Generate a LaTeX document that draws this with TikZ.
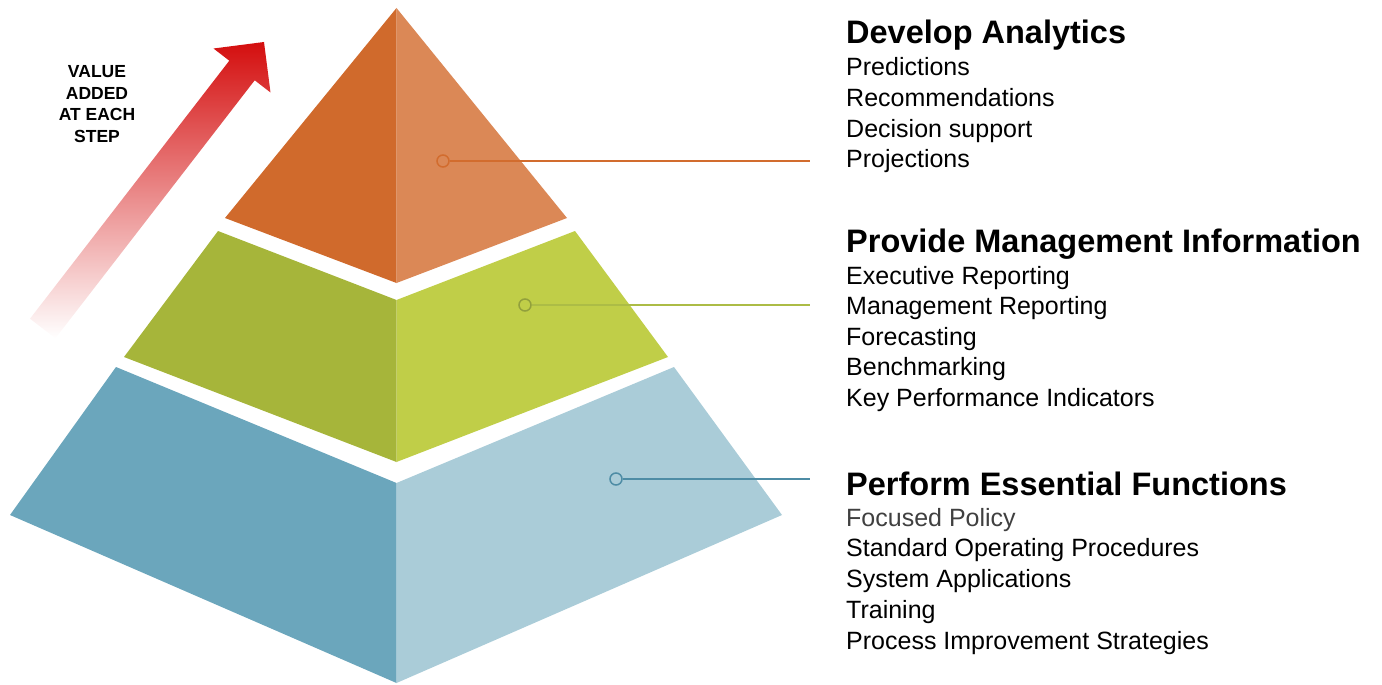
\documentclass[tikz,border=0pt]{standalone}
\usepackage{fontspec}
\setmainfont{Liberation Sans}
\definecolor{orangeD}{RGB}{208,106,44}
\definecolor{orangeL}{RGB}{219,136,86}
\definecolor{greenD}{RGB}{166,181,58}
\definecolor{greenL}{RGB}{192,206,72}
\definecolor{blueD}{RGB}{107,166,188}
\definecolor{blueL}{RGB}{170,204,216}
\definecolor{orangeLn}{RGB}{210,108,46}
\definecolor{greenLn}{RGB}{172,188,70}
\definecolor{blueLn}{RGB}{78,140,165}
\definecolor{arrowred}{RGB}{212,14,14}

\begin{document}
\begin{tikzpicture}[x=1pt,y=-1pt,
    heading/.style={anchor=base west,inner sep=0pt,font=\fontsize{32.5}{36}\selectfont\bfseries},
    item/.style={anchor=base west,inner sep=0pt,font=\fontsize{25}{30}\selectfont},
    marker/.style={circle,draw=#1,line width=1.5pt,inner sep=0pt,minimum size=12pt},
    leader/.style={draw=#1,line width=2pt}]
\useasboundingbox (0,0) rectangle (1382,685);

% arrow
\shade[top color=arrowred,middle color=arrowred!45,bottom color=white]
    (264,42) -- (270.5,92.5) -- (254.7,80.3) -- (55.4,338.3)
    -- (30,318.7) -- (229.3,60.7) -- (213.5,48.5) -- cycle;
\node[align=center,inner sep=0pt,font=\fontsize{17.5}{21.5}\selectfont\bfseries] (value)
    at (97,104) {VALUE\\ADDED\\AT EACH\\STEP};

% pyramid
\coordinate (apex) at (396.5,8);
\fill[orangeD] (apex) -- (225,218) -- (396.5,283) -- cycle;
\fill[orangeL] (apex) -- (396.5,283) -- (567,218) -- cycle;
\fill[greenD] (218,231) -- (396.5,300) -- (396.5,462) -- (124,357) -- cycle;
\fill[greenL] (396.5,300) -- (575,231) -- (668,357) -- (396.5,462) -- cycle;
\fill[blueD] (116,367) -- (396.5,483) -- (396.5,683) -- (10,515) -- cycle;
\fill[blueL] (396.5,483) -- (674,367) -- (782,515) -- (396.5,683) -- cycle;

% markers and leaders
\node[marker=orangeLn] (top) at (443,161) {};
\coordinate (topend) at (810,161);
\draw[leader=orangeLn] (top) -- (topend);
\node[marker=greenLn!85!black] (mid) at (525,305) {};
\coordinate (midend) at (810,305);
\draw[leader=greenLn] (mid) -- (midend);
\node[marker=blueLn] (base) at (616,479) {};
\coordinate (baseend) at (810,479);
\draw[leader=blueLn] (base) -- (baseend);

% texts
\node[heading] (analytics) at (846,44) {Develop Analytics};
\foreach \t [count=\i] in {Predictions,Recommendations,Decision support,Projections}
    \node[item] (analytics-\i) at (846,45.5+30.5*\i) {\t};
\node[heading] (mgmt) at (846,252.5) {Provide Management Information};
\foreach \t [count=\i] in {Executive Reporting,Management Reporting,Forecasting,Benchmarking,Key Performance Indicators}
    \node[item] (mgmt-\i) at (846,253.5+30.5*\i) {\t};
\node[heading] (essential) at (846,495.5) {Perform Essential Functions};
\node[item,text=black!75] (essential-1) at (846,526) {Focused Policy};
\foreach \t [count=\i from 2] in {Standard Operating Procedures,System Applications,Training,Process Improvement Strategies}
    \node[item] (essential-\i) at (846,495.5+30.7*\i) {\t};
\end{tikzpicture}
\end{document}
